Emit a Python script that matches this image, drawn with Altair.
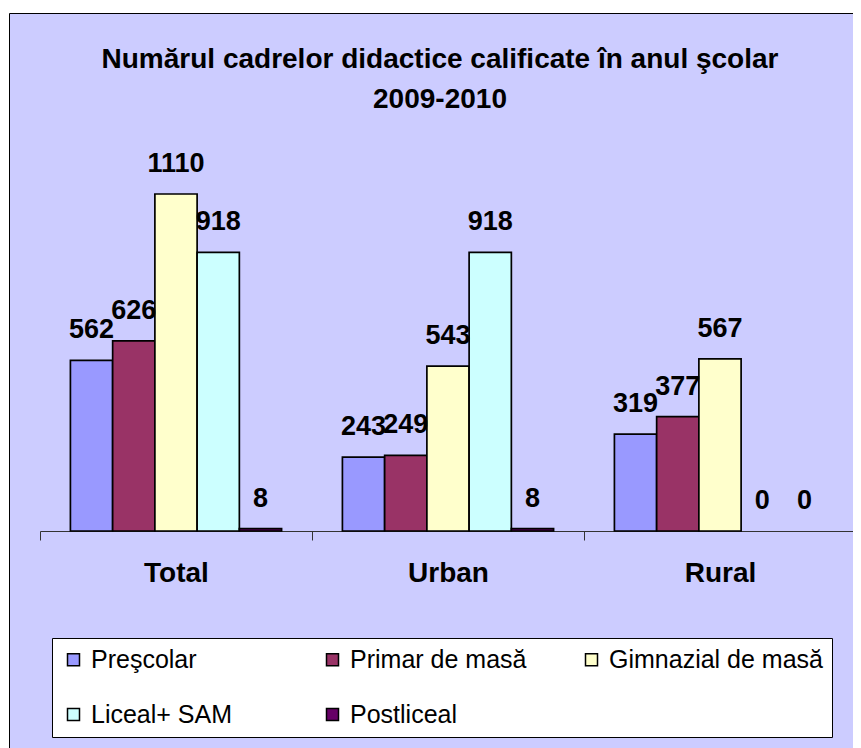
import altair as alt
import pandas as pd

groups = ["Total", "Urban", "Rural"]
series = ["Preşcolar", "Primar de masă", "Gimnazial de masă", "Liceal+ SAM", "Postliceal"]
colors = ["#9999FF", "#993366", "#FFFFCC", "#CCFFFF", "#660066"]
prescolar = [562, 243, 319]
primar = [626, 249, 377]
gimnazial = [1110, 543, 567]
liceal = [918, 918, 0]
postliceal = [8, 8, 0]

rows = []
for s, vals in zip(series, [prescolar, primar, gimnazial, liceal, postliceal]):
    for g, v in zip(groups, vals):
        rows.append({"grupa": g, "serie": s, "valoare": v})
df = pd.DataFrame(rows)

FONT = "Liberation Sans"

x_enc = alt.X(
    "grupa:N",
    sort=groups,
    title=None,
    scale=alt.Scale(range=[31, 847], paddingInner=0, paddingOuter=0),
    axis=alt.Axis(
        offset=-222,
        labelAngle=0,
        labelFont=FONT,
        labelFontSize=28,
        labelFontWeight="bold",
        labelColor="black",
        labelPadding=19,
        tickSize=9,
        tickBand="extent",
        tickColor="#333333",
        domainColor="#333333",
        grid=False,
    ),
)
xoff = alt.XOffset("serie:N", sort=series, scale=alt.Scale(paddingOuter=0.72, paddingInner=0))
y_enc = alt.Y("valoare:Q", axis=None, scale=alt.Scale(domain=[0, 1110], range=[518, 181]))

base = alt.Chart(df)

bars = base.mark_bar(stroke="black", strokeWidth=1.7).encode(
    x=x_enc,
    xOffset=xoff,
    y=y_enc,
    color=alt.Color(
        "serie:N",
        sort=series,
        scale=alt.Scale(domain=series, range=colors),
        legend=alt.Legend(
            title=None,
            orient="none",
            legendX=43,
            legendY=625,
            direction="horizontal",
            columns=3,
            gridAlign="all",
            columnPadding=15,
            rowPadding=29,
            padding=9,
            fillColor="white",
            strokeColor="black",
            symbolType="square",
            symbolSize=144,
            symbolStrokeColor="black",
            symbolStrokeWidth=1.5,
            labelFont=FONT,
            labelFontSize=25,
            labelColor="black",
            labelOffset=5,
            labelLimit=400,
        ),
    ),
).transform_filter("datum.valoare > 0")

labels = base.mark_text(
    font=FONT, fontSize=27, fontWeight="bold", color="black",
    baseline="alphabetic", dy=-22,
).encode(
    x=x_enc,
    xOffset=xoff,
    y=y_enc,
    text=alt.Text("valoare:Q"),
)

chart = alt.layer(bars, labels).properties(
    width=844,
    height=740,
    title=alt.TitleParams(
        text=["Numărul cadrelor didactice calificate în anul şcolar", "2009-2010"],
        font=FONT,
        fontSize=28,
        fontWeight="bold",
        color="black",
        anchor="middle",
        frame="group",
        baseline="top",
        offset=-101,
        lineHeight=40,
        dx=9,
    ),
    autosize=alt.AutoSizeParams(type="none"),
    padding={"left": 1, "top": 5, "right": 0, "bottom": 0},
).configure(background="white").configure_view(
    fill="#CCCCFF", stroke="black", strokeWidth=1
)

chart.save("out.html", embed_options={"renderer": "svg", "actions": False})
